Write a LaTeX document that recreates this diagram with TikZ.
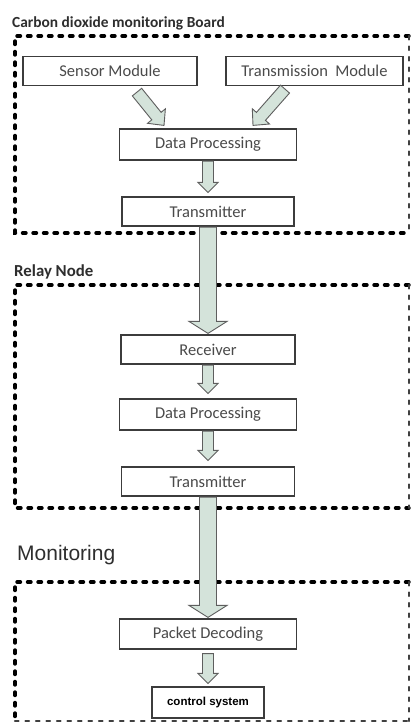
\documentclass[tikz,border=0pt]{standalone}
\usepackage{fontspec}
\setmainfont{Carlito}
\newfontfamily\arialish{Liberation Sans}
\usetikzlibrary{calc,backgrounds}

\definecolor{arrowfill}{HTML}{D4E3DA}
\definecolor{arrowline}{HTML}{5E5E5E}
\definecolor{boxline}{HTML}{3C3C3C}
\definecolor{boxtext}{HTML}{4A4A4A}
\definecolor{labeltext}{HTML}{2E2E2E}

% block arrow: #1 start, #2 tip, #3 half shaft, #4 half head, #5 head length
\newcommand\flowarrow[5]{%
  \coordinate (fa-h) at ($(#2)!#5!(#1)$);
  \filldraw[flowarrowstyle]
    ($(#1)!#3!90:(#2)$) -- ($(fa-h)!#3!-90:(#1)$) -- ($(fa-h)!#4!-90:(#1)$)
    -- (#2) -- ($(fa-h)!#4!90:(#1)$) -- ($(fa-h)!#3!90:(#1)$)
    -- ($(#1)!#3!-90:(#2)$) -- cycle;
}

\tikzset{
  stagebox/.style={draw=boxline, line width=1.2pt, fill=white, inner sep=0pt,
    minimum height=29pt, text=boxtext, font=\fontsize{16.5}{18}\selectfont},
  grouplabel/.style={anchor=base west, inner sep=0pt, text=labeltext,
    font=\bfseries\fontsize{16.8}{19}\selectfont},
  frameedge/.style={draw=black, line width=3.4pt, line cap=round,
    dash pattern=on 3.5pt off 7pt},
  frameright/.style={draw=black!75, line width=2.2pt, line cap=round,
    dash pattern=on 3.5pt off 7pt},
  flowarrowstyle/.style={fill=arrowfill, draw=arrowline, line width=0.9pt,
    line join=miter},
}

\begin{document}
\begin{tikzpicture}[x=1pt, y=-1pt]
  \useasboundingbox (0,0) rectangle (412,723);

  % ---------- group labels ----------
  \node[grouplabel, font=\bfseries\fontsize{15.4}{17}\selectfont] (lab1) at (12,27) {Carbon dioxide monitoring Board};
  \node[grouplabel] (lab2) at (14,276) {Relay Node};
  \node[anchor=base west, inner sep=0pt, text=labeltext,
        font=\arialish\fontsize{21}{24}\selectfont] (lab3) at (17,560) {Monitoring};

  % ---------- stage boxes ----------
  \node[stagebox, minimum width=174pt] (sm) at (110,71) {Sensor Module};
  \node[stagebox, minimum width=177pt] (tm) at (314.5,71) {Transmission\ \ Module};
  \node[stagebox, minimum width=177pt, minimum height=31pt] (dp1) at (208,144.5) {Data Processing};
  \node[stagebox, minimum width=172pt] (tx1) at (208,211.5) {Transmitter};

  \node[stagebox, minimum width=174pt] (rx) at (208,349.5) {Receiver};
  \node[stagebox, minimum width=177pt, minimum height=31pt] (dp2) at (208,414.5) {Data Processing};
  \node[stagebox, minimum width=173pt] (tx2) at (208,481.5) {Transmitter};

  \node[stagebox, minimum width=177pt, minimum height=30pt] (pd) at (208,634) {Packet Decoding};
  \node[stagebox, minimum width=112pt, minimum height=31pt,
        font=\arialish\bfseries\fontsize{11.5}{13}\selectfont, text=black] (cs) at (208,702.5) {control system};

  % ---------- arrow end points ----------
  \coordinate (smout) at ($(sm.south)+(27,6)$);
  \coordinate (dpinl) at ($(dp1.north)+(-44,-3)$);
  \coordinate (tmout) at ($(tm.south)+(-29.5,3)$);
  \coordinate (dpinr) at ($(dp1.north)+(45,-3)$);

  \coordinate (dp1out) at ($(dp1.south)+(0,0.5)$);
  \coordinate (tx1in)  at ($(tx1.north)+(0,-4)$);
  \coordinate (tx1out) at ($(tx1.south)+(0,0.5)$);
  \coordinate (rxin)   at ($(rx.north)+(0,-1)$);
  \coordinate (rxout)  at ($(rx.south)+(0,0.5)$);
  \coordinate (dp2in)  at ($(dp2.north)+(0,-5)$);
  \coordinate (dp2out) at ($(dp2.south)+(0,0.5)$);
  \coordinate (tx2in)  at ($(tx2.north)+(0,-6)$);
  \coordinate (tx2out) at ($(tx2.south)+(0,0.5)$);
  \coordinate (pdin)   at ($(pd.north)+(0,-1)$);
  \coordinate (pdout)  at ($(pd.south)+(0,4)$);
  \coordinate (csin)   at ($(cs.north)+(0,-3)$);

  % ---------- arrows ----------
  \flowarrow{smout}{dpinl}{6pt}{11.5pt}{12pt}
  \flowarrow{tmout}{dpinr}{6pt}{11.5pt}{12pt}
  \flowarrow{dp1out}{tx1in}{5.5pt}{10pt}{10pt}
  \flowarrow{tx1out}{rxin}{8.5pt}{19pt}{12pt}
  \flowarrow{rxout}{dp2in}{5.5pt}{10pt}{10pt}
  \flowarrow{dp2out}{tx2in}{5.5pt}{10pt}{10pt}
  \flowarrow{tx2out}{pdin}{8.5pt}{19pt}{12pt}
  \flowarrow{pdout}{csin}{5.5pt}{10pt}{10pt}

  % ---------- dashed group frames ----------
  \begin{scope}[on background layer]
    \fill[white] (0,0) rectangle (412,723);
    % board
    \draw[frameedge] (409,36) -- (15,36) -- (15,233) -- (409,233);
    \draw[frameright] (409,36) -- (409,233);
    % relay node
    \draw[frameedge] (409,285) -- (15,285) -- (15,508) -- (409,508);
    \draw[frameright] (409,285) -- (409,508);
    % monitoring
    \draw[frameedge] (409,582) -- (15,582) -- (15,718);
    \draw[frameright] (15,721) -- (409,721);
    \draw[frameright] (409,582) -- (409,721);
  \end{scope}
\end{tikzpicture}
\end{document}
